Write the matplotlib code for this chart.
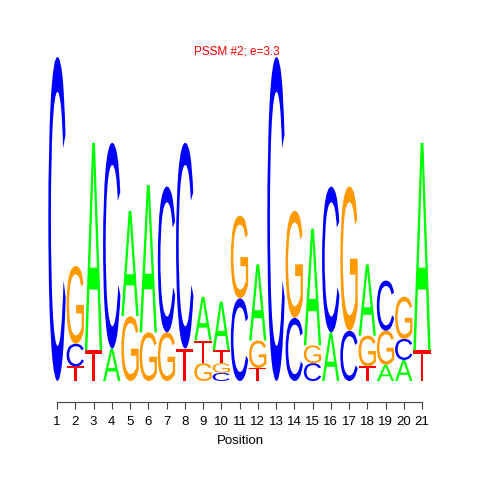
"""sequence logo for PSSM #2 (e=3.3), 21 positions, letter heights in bits."""
import matplotlib
matplotlib.use("Agg")
import matplotlib.pyplot as plt
from matplotlib.textpath import TextPath
from matplotlib.font_manager import FontProperties
from matplotlib.patches import PathPatch
from matplotlib.transforms import Affine2D

# letter stacks, bottom to top, heights in bits
positions = list(range(1, 22))
stacks = [
    [("C", 2.00)],
    [("T", 0.09), ("C", 0.14), ("G", 0.48)],
    [("T", 0.19), ("A", 1.28)],
    [("A", 0.20), ("C", 1.27)],
    [("G", 0.40), ("A", 0.65)],
    [("G", 0.30), ("A", 0.91)],
    [("G", 0.30), ("C", 0.90)],
    [("T", 0.20), ("C", 1.27)],
    [("G", 0.11), ("T", 0.14), ("A", 0.27)],
    [("C", 0.05), ("G", 0.06), ("T", 0.08), ("A", 0.30)],
    [("C", 0.51), ("G", 0.51)],
    [("T", 0.08), ("G", 0.17), ("A", 0.47)],
    [("C", 2.00)],
    [("C", 0.39), ("G", 0.66)],
    [("C", 0.11), ("G", 0.11), ("A", 0.72)],
    [("A", 0.30), ("C", 0.90)],
    [("C", 0.31), ("G", 0.89)],
    [("T", 0.09), ("G", 0.19), ("A", 0.44)],
    [("A", 0.10), ("G", 0.21), ("C", 0.31)],
    [("A", 0.13), ("C", 0.13), ("G", 0.26)],
    [("T", 0.19), ("A", 1.28)],
]
colors = {"A": "#00FF00", "C": "#0000FF", "G": "#FF9900", "T": "#FF0000"}
title = "PSSM #2; e=3.3"

FONT = FontProperties(family="Liberation Sans")
LETTER_W = 0.95


def drawLetter(ax, ch, xc, y0, h):
    tp = TextPath((0, 0), ch, size=1, prop=FONT)
    ext = tp.get_extents()
    tr = (Affine2D()
          .translate(-ext.x0, -ext.y0)
          .scale(LETTER_W / ext.width, h / ext.height)
          .translate(xc - LETTER_W / 2, y0))
    ax.add_patch(PathPatch(tr.transform_path(tp), facecolor=colors[ch],
                           edgecolor="none", clip_on=False))


fig = plt.figure(figsize=(4.8, 4.8), dpi=100)
# axes in pixels: left 40, width 400; bottom 78 (from bottom), height 362
ax = fig.add_axes([40 / 480, 78 / 480, 400 / 480, 362 / 480])

px_per_unit = 18.25
xmin = 1 - 17 / px_per_unit
ax.set_xlim(xmin, xmin + 400 / px_per_unit)
px_per_bit = 162.0
ymin = -21 / px_per_bit
ax.set_ylim(ymin, ymin + 362 / px_per_bit)

for pos, stack in zip(positions, stacks):
    y = 0.0
    for ch, h in stack:
        drawLetter(ax, ch, pos, y, h)
        y += h

for side in ("top", "right", "left"):
    ax.spines[side].set_visible(False)
ax.spines["bottom"].set_bounds(1, 21)
ax.spines["bottom"].set_color("#444444")
ax.spines["bottom"].set_linewidth(0.8)
ax.set_yticks([])
ax.set_xticks(positions)
ax.tick_params(axis="x", length=5, width=0.8, color="#444444",
               labelsize=9.5, pad=5)
for lab in ax.get_xticklabels():
    lab.set_family("Liberation Sans")
ax.set_xlabel("Position", fontsize=9.5, family="Liberation Sans", labelpad=5)

fig.text(237 / 480, 1 - 52 / 480, title, color="red", fontsize=8.5,
         family="Liberation Sans", ha="center", va="center")

fig.savefig("out.png", dpi=100)
